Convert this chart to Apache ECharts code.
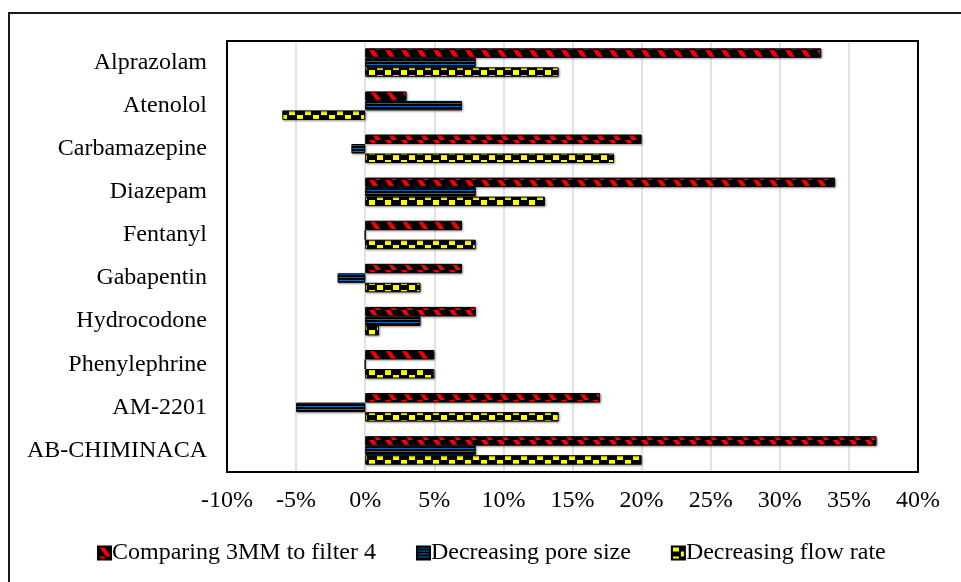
<!DOCTYPE html>
<html>
<head>
<meta charset="utf-8">
<script src="https://cdn.jsdelivr.net/npm/echarts@6/dist/echarts.min.js"></script>
<style>
  html, body { margin: 0; padding: 0; background: #fff; }
  #chart { width: 961px; height: 582px; }
</style>
</head>
<body>
<div id="chart"></div>
<script>
var drugs = ['Alprazolam', 'Atenolol', 'Carbamazepine', 'Diazepam', 'Fentanyl',
    'Gabapentin', 'Hydrocodone', 'Phenylephrine', 'AM-2201', 'AB-CHIMINACA'];
var seriesNames = ['Comparing 3MM to filter 4', 'Decreasing pore size', 'Decreasing flow rate'];
var comparing3mm = [33, 3, 20, 34, 7, 7, 8, 5, 17, 37];
var poreSize = [8, 7, -1, 8, 0, -2, 4, 0, -5, 8];
var flowRate = [14, -6, 18, 13, 8, 4, 1, 5, 14, 20];

var FONT = '"Liberation Serif", "Times New Roman", serif';

// small canvas tiles used as pattern fills
function makeTile(w, h, draw) {
    var c = document.createElement('canvas');
    c.width = w;
    c.height = h;
    var ctx = c.getContext('2d');
    ctx.fillStyle = '#000';
    ctx.fillRect(0, 0, w, h);
    draw(ctx);
    return { image: c, repeat: 'repeat' };
}

var redPattern = makeTile(16, 10, function (ctx) {
    ctx.fillStyle = '#ff0000';
    ctx.beginPath();
    ctx.moveTo(1, 0);
    ctx.lineTo(6, 0);
    ctx.lineTo(13, 10);
    ctx.lineTo(8, 10);
    ctx.closePath();
    ctx.fill();
});
var bluePattern = makeTile(4, 3, function (ctx) {
    ctx.fillStyle = '#0070c0';
    ctx.fillRect(0, 1, 4, 1);
});
var yellowPattern = makeTile(16, 10, function (ctx) {
    ctx.fillStyle = '#ffff00';
    ctx.fillRect(1, 0, 6, 5);
    ctx.fillRect(9, 5, 6, 5);
});

function barSeries(name, data, pattern) {
    return {
        name: name,
        type: 'bar',
        data: data,
        barWidth: 9.5,
        barGap: '0%',
        itemStyle: {
            color: pattern,
            borderColor: '#000',
            borderWidth: 1,
            shadowColor: 'rgba(0,0,0,0.35)',
            shadowBlur: 2,
            shadowOffsetX: 1,
            shadowOffsetY: 1
        },
        emphasis: { disabled: true }
    };
}

var chart = echarts.init(document.getElementById('chart'));
var option = {
    animation: false,
    backgroundColor: '#fff',
    textStyle: { fontFamily: FONT },
    graphic: [{
        type: 'rect',
        shape: { x: 9, y: 13, width: 1000, height: 1000 },
        style: { fill: 'none', stroke: '#1a1a1a', lineWidth: 2 },
        silent: true
    }],
    grid: {
        left: 227,
        right: 43,
        top: 41,
        bottom: 110,
        show: true,
        borderColor: '#000',
        borderWidth: 2,
        backgroundColor: 'transparent',
        z: 3
    },
    legend: {
        left: 92,
        top: 536,
        icon: 'rect',
        itemWidth: 13,
        itemHeight: 13,
        itemGap: 40,
        textStyle: { fontFamily: FONT, fontSize: 24, color: '#000', padding: [0, 0, 0, -4] },
        data: seriesNames
    },
    xAxis: {
        type: 'value',
        min: -10,
        max: 40,
        interval: 5,
        axisLine: { show: false },
        axisTick: { show: false },
        splitLine: { lineStyle: { color: '#d9d9d9', width: 1.5 } },
        axisLabel: {
            margin: 17,
            fontFamily: FONT,
            fontSize: 24,
            color: '#000',
            formatter: function (v) { return v + '%'; }
        }
    },
    yAxis: {
        type: 'category',
        inverse: true,
        data: drugs,
        axisLine: { show: false },
        axisTick: { show: false },
        axisLabel: { margin: 20, fontFamily: FONT, fontSize: 24, color: '#000' }
    },
    series: [
        barSeries(seriesNames[0], comparing3mm, redPattern),
        barSeries(seriesNames[1], poreSize, bluePattern),
        barSeries(seriesNames[2], flowRate, yellowPattern)
    ]
};
chart.setOption(option);
window.addEventListener('resize', function () {
    chart.resize();
});
</script>
</body>
</html>
